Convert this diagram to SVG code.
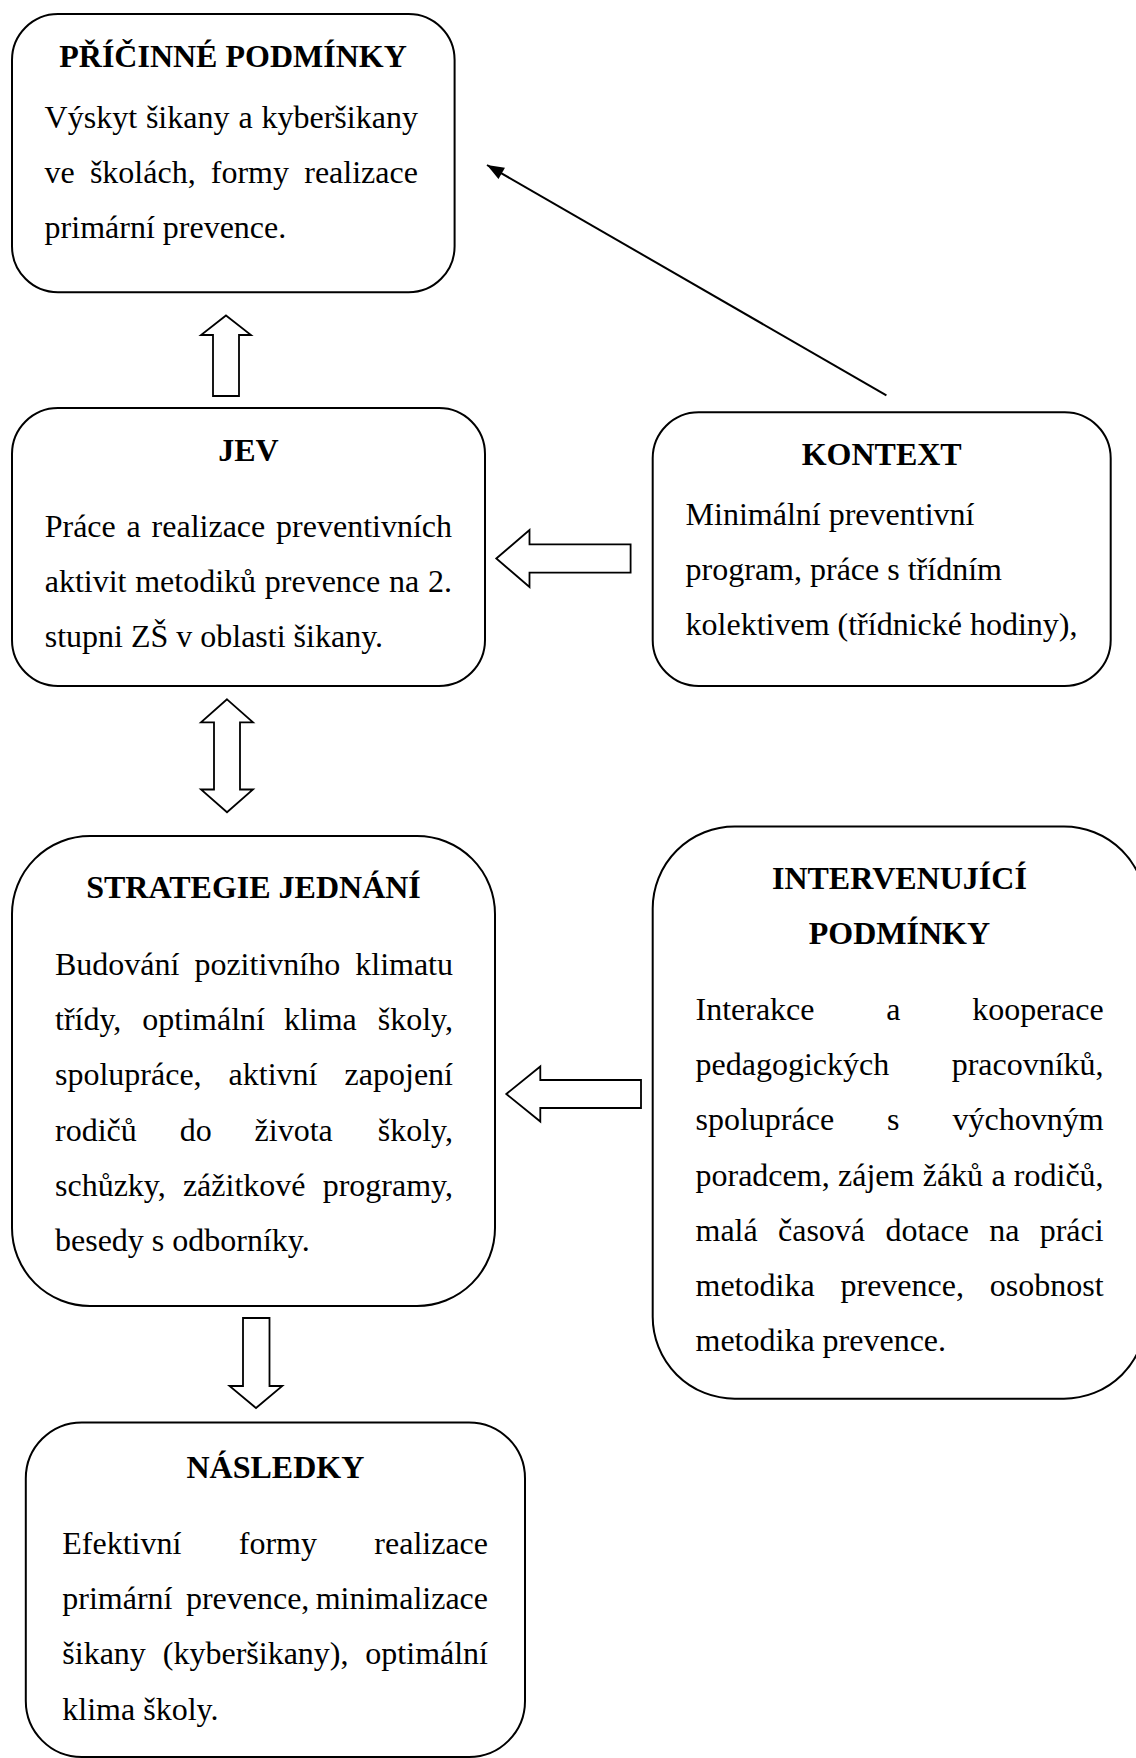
<svg xmlns="http://www.w3.org/2000/svg" width="1136" height="1758" viewBox="0 0 1136 1758">
<style>
.box{fill:#fff;stroke:#000;stroke-width:2}
.blk{fill:#fff;stroke:#000;stroke-width:1.8;stroke-linejoin:miter}
.ln{fill:none;stroke:#000;stroke-width:2}
.t{font-family:"Liberation Serif","Times New Roman",serif;font-size:32px;fill:#000}
.h{font-weight:bold;text-anchor:middle}
.e{text-anchor:end}
</style>
<defs>
<marker id="ah" markerUnits="userSpaceOnUse" markerWidth="20" markerHeight="16" viewBox="-18 -8 20 16" refX="0" refY="0" orient="auto">
<path d="M0,0 L-17,-6.5 L-17,6.5 Z" fill="#000"/>
</marker>
</defs>
<rect width="1136" height="1758" fill="#fff"/>

<g id="connectors">
<polygon class="blk" points="226,315.5 251,335 239,335 239,396 213,396 213,335 201,335"/>
<polygon class="blk" points="227,699.3 253,722.3 240,722.3 240,789.5 253,789.5 227,812.3 201,789.5 214,789.5 214,722.3 201,722.3"/>
<polygon class="blk" points="496.3,558.5 529.5,530 529.5,544.3 630.6,544.3 630.6,572.7 529.5,572.7 529.5,587"/>
<polygon class="blk" points="506.3,1094 540.3,1066.5 540.3,1080 641,1080 641,1108 540.3,1108 540.3,1121.5"/>
<polygon class="blk" points="243,1318 269.5,1318 269.5,1386 282.3,1386 256,1408 229.5,1386 243,1386"/>
<line class="ln" x1="886.4" y1="395.3" x2="487" y2="165" marker-end="url(#ah)"/>
</g>

<g id="node-pricinne-podminky">
<rect class="box" x="12" y="14" width="442.6" height="278.3" rx="46" ry="46"/>
<text class="t h" x="233" y="66.7">PŘÍČINNÉ PODMÍNKY</text>
<text class="t" y="127.7"><tspan x="44.6">Výskyt</tspan><tspan x="145.9">šikany</tspan><tspan x="238.4">a</tspan><tspan class="e" x="417.9" text-anchor="end">kyberšikany</tspan></text>
<text class="t" y="182.9"><tspan x="44.6">ve</tspan><tspan x="89.9">školách,</tspan><tspan x="210.8">formy</tspan><tspan x="417.9" text-anchor="end">realizace</tspan></text>
<text class="t" x="44.6" y="238.1">primární prevence.</text>
</g>

<g id="node-jev">
<rect class="box" x="12" y="408" width="473" height="278" rx="46" ry="46"/>
<text class="t h" x="248.5" y="461">JEV</text>
<text class="t" y="536.7"><tspan x="44.7">Práce</tspan><tspan x="126.6">a</tspan><tspan x="151.6">realizace</tspan><tspan x="452" text-anchor="end">preventivních</tspan></text>
<text class="t" y="591.9"><tspan x="44.7">aktivit</tspan><tspan x="135.2">metodiků</tspan><tspan x="264.8">prevence</tspan><tspan x="389">na</tspan><tspan x="452" text-anchor="end">2.</tspan></text>
<text class="t" x="44.7" y="647.1">stupni ZŠ v oblasti šikany.</text>
</g>

<g id="node-kontext">
<rect class="box" x="652.7" y="412.2" width="458" height="273.8" rx="46" ry="46"/>
<text class="t h" x="881.7" y="465">KONTEXT</text>
<text class="t" x="685.6" y="525">Minimální preventivní</text>
<text class="t" x="685.6" y="580.2">program, práce s třídním</text>
<text class="t" x="685.6" y="635.4">kolektivem (třídnické hodiny),</text>
</g>

<g id="node-strategie-jednani">
<rect class="box" x="12" y="836" width="483" height="470" rx="78" ry="78"/>
<text class="t h" x="253.5" y="898">STRATEGIE JEDNÁNÍ</text>
<text class="t" y="975"><tspan x="55">Budování</tspan><tspan x="194.4">pozitivního</tspan><tspan x="453" text-anchor="end">klimatu</tspan></text>
<text class="t" y="1030.2"><tspan x="55">třídy,</tspan><tspan x="142.3">optimální</tspan><tspan x="283.9">klima</tspan><tspan x="453" text-anchor="end">školy,</tspan></text>
<text class="t" y="1085.4"><tspan x="55">spolupráce,</tspan><tspan x="228.6">aktivní</tspan><tspan x="453" text-anchor="end">zapojení</tspan></text>
<text class="t" y="1140.6"><tspan x="55">rodičů</tspan><tspan x="179.7">do</tspan><tspan x="254.6">života</tspan><tspan x="453" text-anchor="end">školy,</tspan></text>
<text class="t" y="1195.8"><tspan x="55">schůzky,</tspan><tspan x="182.9">zážitkové</tspan><tspan x="453" text-anchor="end">programy,</tspan></text>
<text class="t" x="55" y="1251">besedy s odborníky.</text>
</g>

<g id="node-intervenujici-podminky">
<rect class="box" x="652.7" y="826.5" width="493.3" height="572.2" rx="82" ry="82"/>
<text class="t h" x="899.4" y="888.8">INTERVENUJÍCÍ</text>
<text class="t h" x="899.4" y="944">PODMÍNKY</text>
<text class="t" y="1020"><tspan x="695.5">Interakce</tspan><tspan x="886.2">a</tspan><tspan x="1103.6" text-anchor="end">kooperace</tspan></text>
<text class="t" y="1075.2"><tspan x="695.5">pedagogických</tspan><tspan x="1103.6" text-anchor="end">pracovníků,</tspan></text>
<text class="t" y="1130.4"><tspan x="695.5">spolupráce</tspan><tspan x="887.1">s</tspan><tspan x="1103.6" text-anchor="end">výchovným</tspan></text>
<text class="t" y="1185.6"><tspan x="695.5">poradcem,</tspan><tspan x="838">zájem</tspan><tspan x="922.7">žáků</tspan><tspan x="991.4">a</tspan><tspan x="1103.6" text-anchor="end">rodičů,</tspan></text>
<text class="t" y="1240.8"><tspan x="695.5">malá</tspan><tspan x="778">časová</tspan><tspan x="885.4">dotace</tspan><tspan x="989.2">na</tspan><tspan x="1103.6" text-anchor="end">práci</tspan></text>
<text class="t" y="1296"><tspan x="695.5">metodika</tspan><tspan x="840.5">prevence,</tspan><tspan x="1103.6" text-anchor="end">osobnost</tspan></text>
<text class="t" x="695.5" y="1351.2">metodika prevence.</text>
</g>

<g id="node-nasledky">
<rect class="box" x="25.8" y="1422.4" width="499.2" height="334.6" rx="56" ry="56"/>
<text class="t h" x="275.4" y="1478">NÁSLEDKY</text>
<text class="t" y="1554"><tspan x="62.3">Efektivní</tspan><tspan x="238.8">formy</tspan><tspan x="488" text-anchor="end">realizace</tspan></text>
<text class="t" y="1609.2"><tspan x="62.3">primární</tspan><tspan x="185.9">prevence,</tspan><tspan x="488" text-anchor="end">minimalizace</tspan></text>
<text class="t" y="1664.4"><tspan x="62.3">šikany</tspan><tspan x="162.8">(kyberšikany),</tspan><tspan x="488" text-anchor="end">optimální</tspan></text>
<text class="t" x="62.3" y="1719.6">klima školy.</text>
</g>
</svg>
